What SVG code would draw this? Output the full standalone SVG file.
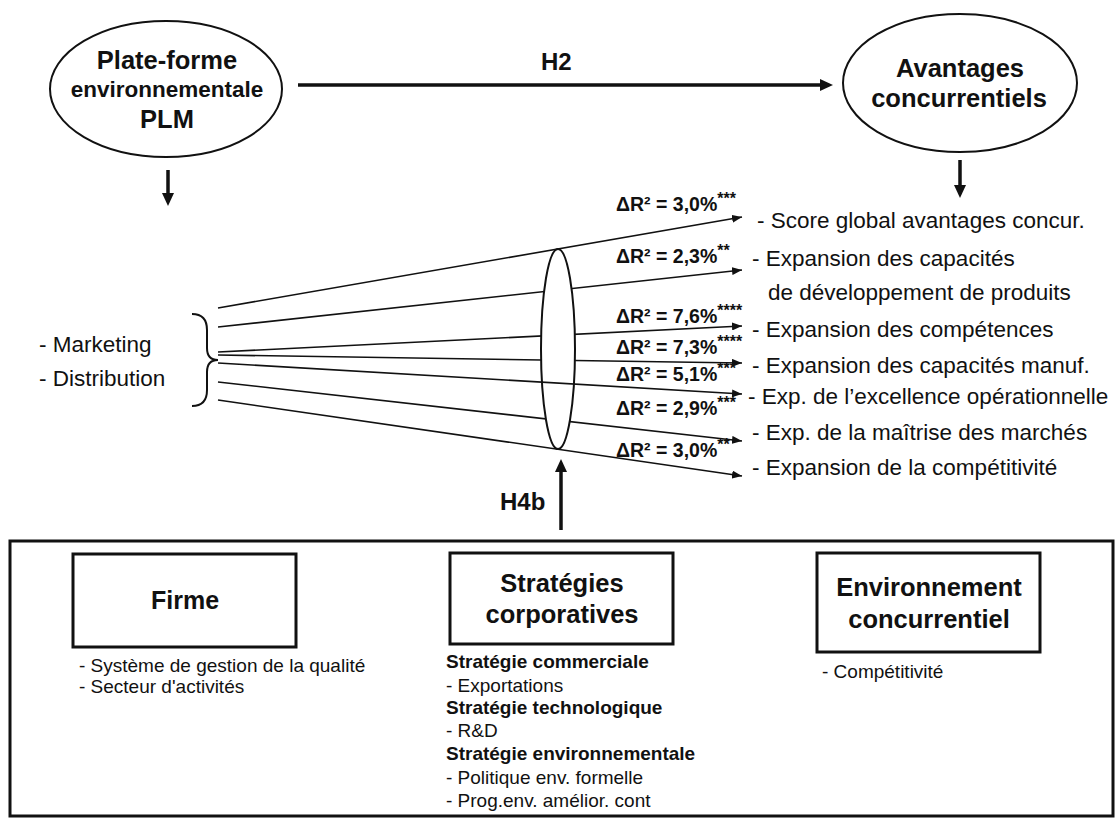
<svg xmlns="http://www.w3.org/2000/svg" width="1120" height="819" viewBox="0 0 1120 819">
  <style>
    text { font-family: "Liberation Sans", Arial, Helvetica, sans-serif; fill: #111; }
    .b { font-weight: bold; }
    .mid { text-anchor: middle; }
    .t-node { font-size: 24px; font-weight: bold; }
    .t-item { font-size: 22.5px; }
    .t-dr { font-size: 19.5px; font-weight: bold; }
    .t-st { font-size: 16px; font-weight: bold; }
    .t-list { font-size: 19px; }
    .shape { fill: #fff; stroke: #111; }
    .fan { stroke: #111; stroke-width: 1.6; fill: none; }
    .thick { stroke: #111; stroke-width: 3.5; fill: none; }
  </style>
  <defs>
    <marker id="head-s" viewBox="0 0 10 8" refX="10" refY="4" markerWidth="10" markerHeight="8" markerUnits="userSpaceOnUse" orient="auto">
      <path d="M0,0 L10,4 L0,8 z" fill="#111"/>
    </marker>
    <marker id="head-l" viewBox="0 0 13 12" refX="1" refY="6" markerWidth="13" markerHeight="12" markerUnits="userSpaceOnUse" orient="auto">
      <path d="M0,0 L13,6 L0,12 z" fill="#111"/>
    </marker>
  </defs>

  <rect width="1120" height="819" fill="#fff"/>

  <!-- connectors -->
  <g id="connectors">
    <line class="thick" x1="298" y1="85" x2="821" y2="85" marker-end="url(#head-l)"/>
    <text class="t-node" x="541" y="70">H2</text>
    <line class="thick" x1="168" y1="170" x2="168" y2="194" marker-end="url(#head-l)"/>
    <line class="thick" x1="960" y1="160" x2="960" y2="186" marker-end="url(#head-l)"/>
    <line class="thick" x1="561" y1="530" x2="561" y2="471" marker-end="url(#head-l)"/>
    <text class="t-node" x="500" y="510" font-size="25">H4b</text>

    <!-- fan of regressions -->
    <g id="fan">
      <line class="fan" x1="218" y1="308" x2="742" y2="217" marker-end="url(#head-s)"/>
      <line class="fan" x1="218" y1="327" x2="742" y2="270" marker-end="url(#head-s)"/>
      <line class="fan" x1="218" y1="352" x2="742" y2="326" marker-end="url(#head-s)"/>
      <line class="fan" x1="218" y1="355" x2="742" y2="363" marker-end="url(#head-s)"/>
      <line class="fan" x1="218" y1="382" x2="742" y2="441" marker-end="url(#head-s)"/>
      <line class="fan" x1="218" y1="400" x2="742" y2="476" marker-end="url(#head-s)"/>
    </g>
    <ellipse id="moderator" class="shape" stroke-width="2" cx="558" cy="349" rx="17" ry="100"/>
    <line class="fan" x1="218" y1="363" x2="742" y2="394" marker-end="url(#head-s)"/>

    <!-- brace grouping the two inputs -->
    <path d="M192,314 Q207,314 207,330 L207,348 Q207,360 218,360 Q207,360 207,372 L207,390 Q207,406 192,406" fill="none" stroke="#111" stroke-width="2"/>
  </g>

  <!-- effect sizes -->
  <g id="effects">
    <text class="t-dr" x="616" y="211">ΔR² = 3,0%<tspan class="t-st" dy="-7">***</tspan></text>
    <text class="t-dr" x="616" y="263">ΔR² = 2,3%<tspan class="t-st" dy="-7">**</tspan></text>
    <text class="t-dr" x="616" y="323">ΔR² = 7,6%<tspan class="t-st" dy="-7">****</tspan></text>
    <text class="t-dr" x="616" y="354">ΔR² = 7,3%<tspan class="t-st" dy="-7">****</tspan></text>
    <text class="t-dr" x="616" y="381">ΔR² = 5,1%<tspan class="t-st" dy="-7">***</tspan></text>
    <text class="t-dr" x="616" y="415">ΔR² = 2,9%<tspan class="t-st" dy="-7">***</tspan></text>
    <text class="t-dr" x="616" y="457">ΔR² = 3,0%<tspan class="t-st" dy="-7">**</tspan></text>
  </g>

  <!-- node: PLM platform -->
  <g id="node-plm">
    <ellipse class="shape" stroke-width="2" cx="166" cy="89" rx="116" ry="68"/>
    <text class="mid b" x="167" y="69" font-size="25.5">Plate-forme</text>
    <text class="mid b" x="167" y="97" font-size="22.5">environnementale</text>
    <text class="mid b" x="167" y="128" font-size="25.5">PLM</text>
  </g>

  <!-- node: competitive advantages -->
  <g id="node-avantages">
    <ellipse class="shape" stroke-width="2" cx="960" cy="83" rx="117" ry="69"/>
    <text class="mid b" x="960" y="77" font-size="25.5">Avantages</text>
    <text class="mid b" x="959" y="107" font-size="25.5">concurrentiels</text>
  </g>

  <!-- inputs -->
  <g id="node-inputs">
    <text class="t-item" x="39" y="352">- Marketing</text>
    <text class="t-item" x="39" y="386">- Distribution</text>
  </g>

  <!-- outcomes -->
  <g id="node-outcomes">
    <text class="t-item" x="757" y="228">- Score global avantages concur.</text>
    <text class="t-item" x="752" y="266">- Expansion des capacités</text>
    <text class="t-item" x="768" y="300">de développement de produits</text>
    <text class="t-item" x="752" y="337">- Expansion des compétences</text>
    <text class="t-item" x="752" y="373">- Expansion des capacités manuf.</text>
    <text class="t-item" x="748" y="404">- Exp. de l’excellence opérationnelle</text>
    <text class="t-item" x="752" y="440">- Exp. de la maîtrise des marchés</text>
    <text class="t-item" x="752" y="475">- Expansion de la compétitivité</text>
  </g>

  <!-- control variables -->
  <g id="node-controls">
    <rect class="shape" stroke-width="3" x="10" y="541" width="1103" height="275"/>
  </g>

  <g id="node-firme">
    <rect class="shape" stroke-width="3" x="73" y="554" width="223" height="93"/>
    <text class="mid b" x="185" y="609" font-size="25">Firme</text>
    <text class="t-list" x="79" y="672">- Système de gestion de la qualité</text>
    <text class="t-list" x="79" y="693">- Secteur d'activités</text>
  </g>

  <g id="node-strategies">
    <rect class="shape" stroke-width="3" x="450" y="553" width="223" height="91"/>
    <text class="mid b" x="562" y="592" font-size="25.5">Stratégies</text>
    <text class="mid b" x="562" y="623" font-size="25.5">corporatives</text>
    <text class="t-list b" x="446" y="668">Stratégie commerciale</text>
    <text class="t-list" x="446" y="692">- Exportations</text>
    <text class="t-list b" x="446" y="714">Stratégie technologique</text>
    <text class="t-list" x="446" y="737">- R&amp;D</text>
    <text class="t-list b" x="446" y="760">Stratégie environnementale</text>
    <text class="t-list" x="446" y="784">- Politique env. formelle</text>
    <text class="t-list" x="446" y="807">- Prog.env. amélior. cont</text>
  </g>

  <g id="node-environnement">
    <rect class="shape" stroke-width="3" x="817" y="553" width="223" height="99"/>
    <text class="mid b" x="929" y="596" font-size="25.5">Environnement</text>
    <text class="mid b" x="929" y="628" font-size="25.5">concurrentiel</text>
    <text class="t-list" x="822" y="678">- Compétitivité</text>
  </g>
</svg>
